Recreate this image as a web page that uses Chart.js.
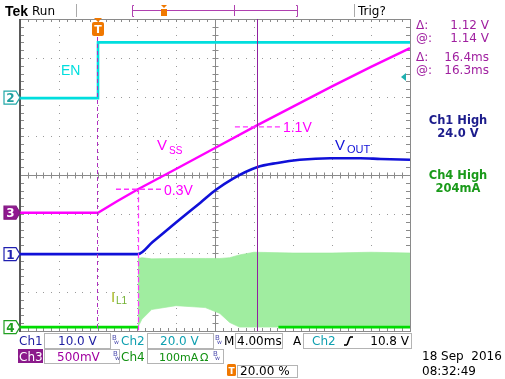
<!DOCTYPE html>
<html><head><meta charset="utf-8">
<script src="https://cdn.jsdelivr.net/npm/chart.js@4.4.0/dist/chart.umd.min.js"></script>
<style>html,body{margin:0;padding:0;background:#fff;overflow:hidden}#wrap{width:505px;height:379px;position:relative}</style>
</head><body><div id="wrap"><canvas id="c" width="505" height="379"></canvas></div>
<script>
// ---- time base (ms): 4.00 ms/div, 10 div, trigger at 20 %
const timeMin = -8, timeMax = 32;
// ---- Ch2: EN (V)
const enT = [-8, 0, 0, 32];
const enV = [0, 0, 28.6, 28.6];
// ---- Ch3: Vss (V)
const vssT = [-8, 0, 2, 4.1, 8, 12, 16.3, 20, 24, 28, 32];
const vssV = [0, 0, 0.15, 0.30, 0.56, 0.83, 1.12, 1.36, 1.62, 1.87, 2.11];
// ---- Ch1: Vout (V)
const voutT = [-8, 4.1, 5.6, 8, 10.5, 12.1, 13.85, 16.3, 18.4, 20.7, 23.8, 26.9, 29, 32];
const voutV = [0, 0, 3.1, 8.1, 13.2, 16.5, 19.4, 22.3, 23.4, 24.2, 24.6, 24.6, 24.4, 24.2];
// ---- Ch4: inductor current IL1 (mA) switching envelope
const ilT   = [4.1, 4.5, 5.5, 8, 11, 12.5, 13.5, 14.5, 16, 20, 24, 28, 32];
const ilMax = [176, 178, 175, 176, 176, 176, 178, 185, 192, 190, 190, 192, 190];
const ilMin = [0, 20, 45, 55, 50, 35, 12, 0, 0, 0, 0, 0, 0];
const ilBaseT = [-8, 4.1, 11, 18.5, 32];
const ilBaseV = [0, 0, null, 0, 0];
// ---- cursors (ms) and annotation levels
const cursorT = [-0.1, 16.3];
const markVss = [[4.1, 0.3, '0.3V'], [16.3, 1.1, '1.1V']];
// ---- channel settings (units/div)
const chScale = {ch1: 10, ch2: 20, ch3: 0.5, ch4: 100};
const chPos = {ch1: -2.03, ch2: 1.97, ch3: -0.967, ch4: -3.9};

const pts = (T, V, ch) => T.map((t, i) => ({x: t, y: V[i] == null ? null : V[i] / chScale[ch] + chPos[ch]}));

const MAG = '#ff00ff', CYAN = '#00dede', BLUE = '#1010d8', GREEN = '#00dc00', PURP = '#a020a0';

function txt(ctx, s, x, y, font, color, align) {
  ctx.font = font; ctx.fillStyle = color; ctx.textAlign = align || 'left'; ctx.textBaseline = 'alphabetic';
  ctx.fillText(s, x, y);
}
function dline(ctx, x1, y1, x2, y2, color, dash, w) {
  ctx.save(); ctx.strokeStyle = color; ctx.lineWidth = w || 1; ctx.setLineDash(dash || []);
  ctx.beginPath(); ctx.moveTo(x1, y1); ctx.lineTo(x2, y2); ctx.stroke(); ctx.restore();
}
function marker(ctx, y, label, stroke, fill, tcol) {
  ctx.save();
  ctx.beginPath();
  ctx.moveTo(4, y - 6.5); ctx.lineTo(16, y - 6.5); ctx.lineTo(20, y); ctx.lineTo(16, y + 6.5); ctx.lineTo(4, y + 6.5); ctx.closePath();
  ctx.fillStyle = fill; ctx.fill(); ctx.lineWidth = 1.2; ctx.strokeStyle = stroke; ctx.stroke();
  txt(ctx, label, 10.5, y + 4.5, 'bold 12px "DejaVu Sans"', tcol, 'center');
  ctx.restore();
}

const scope = {
  id: 'scope',
  beforeDatasetsDraw(chart) {
    const ctx = chart.ctx, a = chart.chartArea;
    const L = a.left, R = a.right, T = a.top, B = a.bottom;
    const dx = (R - L) / 10, dy = (B - T) / 8;
    ctx.save();
    ctx.fillStyle = '#9a9a9a';
    for (let i = 1; i < 10; i++) {
      const x = Math.round(L + i * dx);
      for (let j = 1; j < 40; j++) ctx.fillRect(x, Math.round(T + j * dy / 5), 1, 1);
    }
    for (let i = 1; i < 8; i++) {
      const y = Math.round(T + i * dy);
      for (let j = 1; j < 50; j++) ctx.fillRect(Math.round(L + j * dx / 5), y, 1, 1);
    }
    const cx = Math.round(L + 5 * dx) + 0.5, cy = Math.round(T + 4 * dy) + 0.5;
    ctx.strokeStyle = '#8a8a8a'; ctx.lineWidth = 1;
    ctx.beginPath(); ctx.moveTo(L, cy); ctx.lineTo(R, cy); ctx.moveTo(cx, T); ctx.lineTo(cx, B); ctx.stroke();
    ctx.beginPath();
    for (let j = 1; j < 50; j++) { const x = Math.round(L + j * dx / 5) + 0.5; ctx.moveTo(x, cy - 3); ctx.lineTo(x, cy + 3);
      ctx.moveTo(x, T); ctx.lineTo(x, T + 3); ctx.moveTo(x, B); ctx.lineTo(x, B - 3); }
    for (let j = 1; j < 40; j++) { const y = Math.round(T + j * dy / 5) + 0.5; ctx.moveTo(cx - 3, y); ctx.lineTo(cx + 3, y);
      ctx.moveTo(L, y); ctx.lineTo(L + 4, y); ctx.moveTo(R, y); ctx.lineTo(R - 4, y); }
    ctx.stroke();
    ctx.strokeStyle = '#8a8a8a';
    ctx.strokeRect(Math.round(L) + 0.5, Math.round(T) + 0.5, Math.round(R - L), Math.round(B - T));
    ctx.fillStyle = '#5a5a5a'; ctx.fillRect(Math.round(L) - 1, Math.round(T), 2, Math.round(B - T) + 1);
    ctx.restore();
  },
  afterDatasetsDraw(chart) {
    const ctx = chart.ctx, a = chart.chartArea, xs = chart.scales.x, ys = chart.scales.y;
    const X = t => xs.getPixelForValue(t);
    const Y = (ch, v) => ys.getPixelForValue(v / chScale[ch] + chPos[ch]);
    dline(ctx, Math.round(X(cursorT[0])) + 0.5, 37, Math.round(X(cursorT[0])) + 0.5, a.bottom, '#b030c0', [4, 3]);
    dline(ctx, Math.round(X(cursorT[1])) + 0.5, a.top, Math.round(X(cursorT[1])) + 0.5, a.bottom, '#9020a0', []);
    markVss.forEach(([t, v, s]) => {
      const x = X(t), y = Y('ch3', v);
      dline(ctx, x - 22, y, x + 24, y, '#ff33ff', [5, 3], 1.4);
      txt(ctx, s, x + 26, y + 5.5, '14px "Liberation Sans"', MAG);
    });
    const x03 = Math.round(X(markVss[0][0])) + 0.5;
    dline(ctx, x03, Y('ch3', 0.3), x03, a.bottom, '#ff33ff', [5, 3], 1.2);
    txt(ctx, 'EN', 61, 75, '14px "Liberation Sans"', CYAN);
    txt(ctx, 'V', 157, 150, '15px "Liberation Sans"', MAG);
    txt(ctx, 'SS', 169, 154, '10px "Liberation Sans"', MAG);
    txt(ctx, 'V', 335, 150, '15px "Liberation Sans"', BLUE);
    txt(ctx, 'OUT', 347, 153, '11px "Liberation Sans"', BLUE);
    txt(ctx, 'I', 111, 302, '15px "Liberation Sans"', '#a8b820');
    txt(ctx, 'L1', 116, 304, '10px "Liberation Sans"', '#70b030');
  },
  afterDraw(chart) {
    const ctx = chart.ctx, ys = chart.scales.y, xs = chart.scales.x;
    const Y = (ch, v) => ys.getPixelForValue(v / chScale[ch] + chPos[ch]);
    txt(ctx, 'Tek', 5, 16, 'bold 14px "Liberation Sans"', '#000');
    txt(ctx, 'Run', 32, 15, '12px "DejaVu Sans"', '#000');
    dline(ctx, 76.5, 4, 76.5, 17, '#aaa');
    dline(ctx, 354.5, 4, 354.5, 17, '#aaa');
    txt(ctx, 'Trig?', 358, 15, '12px "DejaVu Sans"', '#000');
    ctx.save(); ctx.strokeStyle = '#b040b0'; ctx.lineWidth = 1; ctx.beginPath();
    ctx.moveTo(134, 5.5); ctx.lineTo(132.5, 5.5); ctx.lineTo(132.5, 16.5); ctx.lineTo(134, 16.5);
    ctx.moveTo(296, 5.5); ctx.lineTo(297.5, 5.5); ctx.lineTo(297.5, 16.5); ctx.lineTo(296, 16.5);
    ctx.moveTo(132.5, 10.5); ctx.lineTo(297.5, 10.5);
    ctx.moveTo(234.5, 5); ctx.lineTo(234.5, 16); ctx.stroke(); ctx.restore();
    ctx.fillStyle = '#f07800';
    ctx.beginPath(); ctx.moveTo(161, 5); ctx.lineTo(167, 5); ctx.lineTo(164, 8); ctx.closePath(); ctx.fill();
    ctx.fillRect(161, 9, 6, 7);
    const tx = xs.getPixelForValue(0);
    ctx.beginPath(); ctx.moveTo(tx - 4, 18); ctx.lineTo(tx + 4, 18); ctx.lineTo(tx, 22); ctx.closePath(); ctx.fill();
    ctx.beginPath(); ctx.roundRect(tx - 6, 22, 12, 14, 2); ctx.fill();
    txt(ctx, 'T', tx, 33, 'bold 11px "DejaVu Sans"', '#fff', 'center');
    const ty = Y('ch2', 10.8);
    ctx.fillStyle = '#20b0b0';
    ctx.beginPath(); ctx.moveTo(401, ty); ctx.lineTo(406, ty - 4); ctx.lineTo(406, ty + 4); ctx.closePath(); ctx.fill();
    marker(ctx, Y('ch2', 0) - 0.5, '2', '#20a8a8', '#fff', '#20a0a0');
    marker(ctx, Y('ch3', 0), '3', '#801880', '#901890', '#fff');
    marker(ctx, Y('ch1', 0), '1', '#2020b0', '#fff', '#2020b0');
    marker(ctx, Y('ch4', 0), '4', '#20a020', '#fff', '#20a020');
    const RF = '12px "DejaVu Sans"';
    txt(ctx, 'Δ:', 416, 29, RF, PURP); txt(ctx, '1.12 V', 489, 29, RF, PURP, 'right');
    txt(ctx, '@:', 416, 42, RF, PURP); txt(ctx, '1.14 V', 489, 42, RF, PURP, 'right');
    txt(ctx, 'Δ:', 416, 61, RF, PURP); txt(ctx, '16.4ms', 489, 61, RF, PURP, 'right');
    txt(ctx, '@:', 416, 74, RF, PURP); txt(ctx, '16.3ms', 489, 74, RF, PURP, 'right');
    const HF = 'bold 11.5px "DejaVu Sans"';
    txt(ctx, 'Ch1 High', 458, 124, HF, '#1c1c8c', 'center');
    txt(ctx, '24.0 V', 458, 137, HF, '#1c1c8c', 'center');
    txt(ctx, 'Ch4 High', 458, 179, HF, '#1a9a1a', 'center');
    txt(ctx, '204mA', 458, 192, HF, '#1a9a1a', 'center');
    ctx.save(); ctx.strokeStyle = '#b4b4b4'; ctx.lineWidth = 1;
    [[44, 333, 66, 15], [147, 333, 66, 15], [235, 333, 47, 15], [303, 333, 108, 15],
     [44, 349, 75, 14], [147, 349, 76, 14], [237, 365, 60, 12]].forEach(r => ctx.strokeRect(r[0] + 0.5, r[1] + 0.5, r[2], r[3]));
    ctx.restore();
    const BF = '12px "DejaVu Sans"';
    txt(ctx, 'Ch1', 19, 345, BF, '#1c1ca0'); txt(ctx, '10.0 V', 58, 345, BF, '#1c1ca0');
    txt(ctx, 'Ch2', 121, 345, BF, '#10a0b0'); txt(ctx, '20.0 V', 160, 345, BF, '#10a0b0');
    txt(ctx, 'M', 224, 345, BF, '#000'); txt(ctx, '4.00ms', 237, 345, BF, '#000');
    txt(ctx, 'A', 293, 345, BF, '#000'); txt(ctx, 'Ch2', 312, 345, BF, '#10a0b0');
    txt(ctx, '10.8 V', 409, 345, BF, '#000', 'right');
    dline(ctx, 344, 345, 347, 345, '#000', [], 1.6); dline(ctx, 347, 345, 350, 337, '#000', [], 1.6); dline(ctx, 350, 337, 353, 337, '#000', [], 1.6);
    ctx.fillStyle = '#8b1a8b'; ctx.fillRect(18, 349, 25, 14);
    txt(ctx, 'Ch3', 19, 361, BF, '#fff');
    txt(ctx, '500mV', 57, 361, BF, '#a000a0');
    txt(ctx, 'Ch4', 121, 361, BF, '#109010'); txt(ctx, '100mA', 159, 361, '11px "DejaVu Sans"', '#109010'); txt(ctx, 'Ω', 200, 361, '11px "DejaVu Sans"', '#109010');
    [[112, 340], [215, 340], [113, 356], [213, 356]].forEach(([x, y]) => {
      txt(ctx, 'B', x, y, '7px "DejaVu Sans"', '#5050b0'); txt(ctx, 'w', x + 2, y + 4, '6px "DejaVu Sans"', '#5050b0');
    });
    ctx.fillStyle = '#f07800'; ctx.beginPath(); ctx.roundRect(227, 364, 9, 12, 1.5); ctx.fill();
    txt(ctx, 'T', 231.5, 374, 'bold 9px "DejaVu Sans"', '#fff', 'center');
    txt(ctx, '20.00 %', 240, 375, BF, '#000');
    txt(ctx, '18 Sep  2016', 422, 360, BF, '#000');
    txt(ctx, '08:32:49', 422, 375, BF, '#000');
  }
};

const ds = (data, color, w, order, extra) => Object.assign({data, borderColor: color, borderWidth: w, pointRadius: 0, order, fill: false, spanGaps: false}, extra || {});

new Chart(document.getElementById('c'), {
  type: 'line',
  data: {datasets: [
    ds(pts(voutT, voutV, 'ch1'), BLUE, 2.6, 1, {cubicInterpolationMode: 'monotone'}),
    ds(pts(vssT, vssV, 'ch3'), MAG, 2.4, 2),
    ds(pts(enT, enV, 'ch2'), CYAN, 2.6, 3),
    ds(pts(ilBaseT, ilBaseV, 'ch4'), GREEN, 2.6, 4),
    ds(pts(ilT, ilMax, 'ch4'), 'rgba(150,234,150,0.6)', 1, 5, {fill: '+1', backgroundColor: 'rgb(160,237,160)'}),
    ds(pts(ilT, ilMin, 'ch4'), 'rgba(150,234,150,0.6)', 1, 6)
  ]},
  options: {
    responsive: false, animation: false, events: [],
    layout: {padding: {left: 20, top: 19, right: 95, bottom: 48}},
    scales: {x: {type: 'linear', min: timeMin, max: timeMax, display: false}, y: {min: -4, max: 4, display: false}},
    plugins: {legend: {display: false}, tooltip: {enabled: false}},
    elements: {line: {tension: 0}, point: {radius: 0}}
  },
  plugins: [scope]
});
</script></body></html>
